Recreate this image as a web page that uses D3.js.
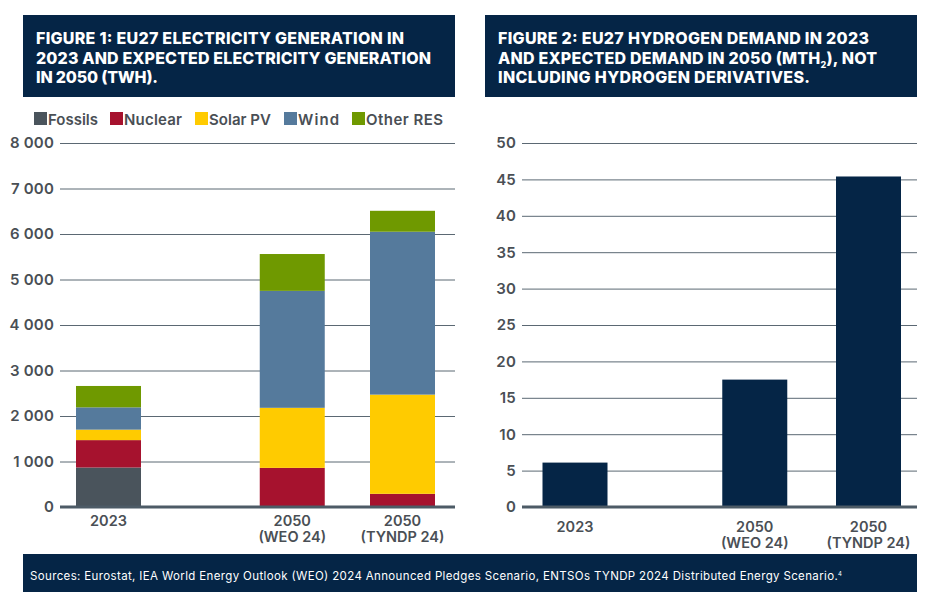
<!DOCTYPE html>
<html>
<head>
<meta charset="utf-8">
<script src="https://cdn.jsdelivr.net/npm/d3@7"></script>
<style>
html, body { margin: 0; padding: 0; background: #fff; }
text { font-family: Inter, "Open Sans", sans-serif; }
</style>
</head>
<body>
<div id="chart"></div>
<script>
var seriesNames = ["Fossils", "Nuclear", "Solar PV", "Wind", "Other RES"];
var seriesColors = ["#4a545c", "#a6122e", "#ffcb00", "#557a9c", "#6f9900"];
var fossils = [868, 0, 0];
var nuclear = [602, 860, 290];
var solar = [230, 1320, 2180];
var wind = [490, 2570, 3580];
var otherRes = [470, 810, 460];
var elecTicks = [0, 1000, 2000, 3000, 4000, 5000, 6000, 7000, 8000];

var hydrogen = [6.1, 17.5, 45.4];
var hydrogenTicks = [0, 5, 10, 15, 20, 25, 30, 35, 40, 45, 50];

// the axis leaves a gap between 2023 and 2050, so categories sit on slots
var categories = [["2023"], ["2050", "(WEO 24)"], ["2050", "(TYNDP 24)"]];
var elecSlots = [0, 5, 8];
var hydrogenSlots = [0, 4.9, 8];

var navy = "#052546", textCol = "#4a4f55", gridCol = "#5b6873", baseCol = "#4d5b66";
var W = 951, H = 606, barW = 65;

var svg = d3.select("#chart").append("svg").attr("width", W).attr("height", H);
var spaced = d3.formatLocale({decimal: ".", thousands: " ", grouping: [3], currency: ["", ""]}).format(",d");

function header(x, w, lines) {
	svg.append("rect").attr("x", x).attr("y", 15).attr("width", w).attr("height", 82).attr("fill", navy);
	lines.forEach(function(l, i) {
		var t = svg.append("text").attr("x", x + 13).attr("y", 44 + i * 19.5)
			.attr("fill", "#fff").attr("font-size", 16).attr("font-weight", 800)
			.attr("textLength", l.width).attr("lengthAdjust", "spacing");
		l.parts.forEach(function(p) {
			var s = t.append("tspan").text(p.text);
			if (p.sub) s.attr("font-size", 9).attr("dy", 4);
			if (p.after) s.attr("dy", -4);
		});
	});
}

function yAxis(g, y, ticks, left, right, fmt) {
	var axis = d3.axisLeft(y).tickValues(ticks).tickSize(right - left).tickPadding(6).tickFormat(fmt);
	g.attr("transform", "translate(" + right + ",0)").call(axis);
	g.select(".domain").remove();
	g.selectAll("line").attr("stroke", gridCol).attr("stroke-width", 1);
	g.selectAll("text").attr("fill", textCol).attr("font-size", 15).attr("font-weight", 600)
		.style("letter-spacing", "0.2px");
}

function baseline(x0, x1, y0) {
	svg.append("line").attr("x1", x0).attr("x2", x1).attr("y1", y0).attr("y2", y0)
		.attr("stroke", baseCol).attr("stroke-width", 3);
}

function catLabels(x, slots, yTop, leading) {
	var lab = svg.append("g").selectAll("text").data(categories).enter().append("text")
		.attr("text-anchor", "middle").attr("fill", textCol).attr("font-size", 14.5).attr("font-weight", 600);
	lab.each(function(lines, i) {
		d3.select(this).selectAll("tspan").data(lines).enter().append("tspan")
			.attr("x", x(slots[i])).attr("y", function(d, j) { return yTop + j * leading; })
			.text(function(d) { return d; });
	});
}

// figure 1
header(23, 432, [
	{width: 368, parts: [{text: "FIGURE 1: EU27 ELECTRICITY GENERATION IN"}]},
	{width: 395, parts: [{text: "2023 AND EXPECTED ELECTRICITY GENERATION"}]},
	{width: 122, parts: [{text: "IN 2050 (TWH)."}]}
]);

var y1 = d3.scaleLinear().domain([0, 8000]).range([507, 143]);
var x1 = d3.scaleLinear().domain([0, 8]).range([108.5, 402.5]);
yAxis(svg.append("g"), y1, elecTicks, 60, 455, spaced);

var rows = categories.map(function(c, i) {
	return {i: i, Fossils: fossils[i], Nuclear: nuclear[i], "Solar PV": solar[i], Wind: wind[i], "Other RES": otherRes[i]};
});
var stacked = d3.stack().keys(seriesNames)(rows);
svg.append("g").selectAll("g").data(stacked).enter().append("g")
	.attr("fill", function(d, i) { return seriesColors[i]; })
	.selectAll("rect").data(function(d) { return d; }).enter().append("rect")
	.attr("x", function(d) { return x1(elecSlots[d.data.i]) - barW / 2; })
	.attr("width", barW)
	.attr("y", function(d) { return y1(d[1]); })
	.attr("height", function(d) { return y1(d[0]) - y1(d[1]); });
baseline(60, 455, 507);
catLabels(x1, elecSlots, 526, 15.5);

// legend
var legendX = [34, 110, 195, 284, 352];
var legendW = [50, 58, 62, 41, 77];
var leg = svg.append("g").selectAll("g").data(seriesNames).enter().append("g")
	.attr("transform", function(d, i) { return "translate(" + legendX[i] + ",112)"; });
leg.append("rect").attr("width", 13).attr("height", 13)
	.attr("fill", function(d, i) { return seriesColors[i]; });
leg.append("text").attr("x", 14).attr("y", 12.5).attr("fill", textCol)
	.attr("font-size", 15).attr("font-weight", 600)
	.attr("textLength", function(d, i) { return legendW[i]; }).attr("lengthAdjust", "spacing")
	.text(function(d) { return d; });

// figure 2
header(485, 432, [
	{width: 371, parts: [{text: "FIGURE 2: EU27 HYDROGEN DEMAND IN 2023"}]},
	{width: 379, parts: [{text: "AND EXPECTED DEMAND IN 2050 (MTH"}, {text: "2", sub: true}, {text: "), NOT", after: true}]},
	{width: 312, parts: [{text: "INCLUDING HYDROGEN DERIVATIVES."}]}
]);

var y2 = d3.scaleLinear().domain([0, 50]).range([507, 143]);
var x2 = d3.scaleLinear().domain([0, 8]).range([575, 868.5]);
yAxis(svg.append("g"), y2, hydrogenTicks, 522, 917, d3.format("d"));

svg.append("g").selectAll("rect").data(hydrogen).enter().append("rect")
	.attr("fill", navy)
	.attr("x", function(d, i) { return x2(hydrogenSlots[i]) - barW / 2; })
	.attr("width", barW)
	.attr("y", function(d) { return y2(d); })
	.attr("height", function(d) { return y2(0) - y2(d); });
baseline(522, 917, 507);
catLabels(x2, hydrogenSlots, 532, 16.3);

// sources bar
svg.append("rect").attr("x", 23).attr("y", 554).attr("width", 894).attr("height", 38).attr("fill", navy);
var src = svg.append("text").attr("x", 30).attr("y", 580).attr("fill", "#fff").attr("font-size", 11.5)
	.attr("textLength", 812).attr("lengthAdjust", "spacing");
src.append("tspan").text("Sources: Eurostat, IEA World Energy Outlook (WEO) 2024 Announced Pledges Scenario, ENTSOs TYNDP 2024 Distributed Energy Scenario.");
src.append("tspan").attr("font-size", 6).attr("dy", -4).text("4");
</script>
</body>
</html>
